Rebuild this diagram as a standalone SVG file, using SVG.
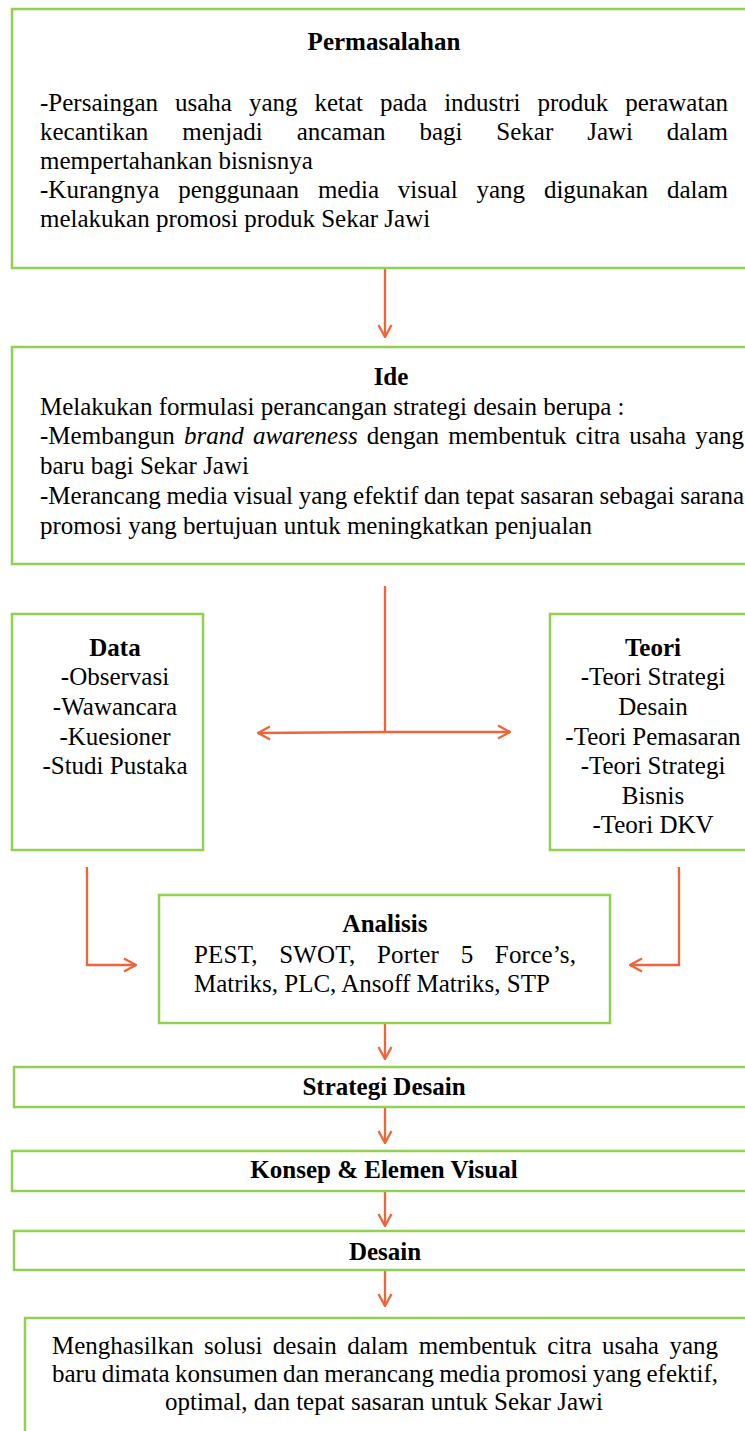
<svg xmlns="http://www.w3.org/2000/svg" width="745" height="1431" viewBox="0 0 745 1431">
<style>
.box{fill:#fff;stroke:#92D050;stroke-width:2.5}
.t{font-family:"Liberation Serif","Times New Roman",serif;font-size:25px;fill:#000}
.b{font-weight:bold}
.c{text-anchor:middle}
.con{fill:none;stroke:#F0643A;stroke-width:2.3}
</style>
<defs>
<marker id="ah" viewBox="0 0 14 16" refX="13" refY="8" markerWidth="14" markerHeight="16" markerUnits="userSpaceOnUse" orient="auto">
<path d="M1,1.5 L13,8 L1,14.5" fill="none" stroke="#F0643A" stroke-width="2.3"/>
</marker>
</defs>
<rect width="745" height="1431" fill="#fff"/>
<g id="connectors">
<line class="con" x1="385" y1="269" x2="385" y2="337" marker-end="url(#ah)"/>
<line class="con" x1="385" y1="586" x2="385" y2="732"/>
<line class="con" x1="385" y1="732" x2="258" y2="733" marker-end="url(#ah)"/>
<line class="con" x1="385" y1="732" x2="510" y2="732" marker-end="url(#ah)"/>
<polyline class="con" points="87,867 87,965 136,965" marker-end="url(#ah)"/>
<polyline class="con" points="679,867 679,965 630,965" marker-end="url(#ah)"/>
<line class="con" x1="385" y1="1024" x2="385" y2="1059" marker-end="url(#ah)"/>
<line class="con" x1="385" y1="1108" x2="385" y2="1143" marker-end="url(#ah)"/>
<line class="con" x1="385" y1="1192" x2="385" y2="1226" marker-end="url(#ah)"/>
<line class="con" x1="385" y1="1271" x2="385" y2="1306" marker-end="url(#ah)"/>
</g>
<g id="permasalahan">
<rect class="box" x="12" y="9" width="760" height="259"/>
<text class="t b c" x="384" y="50">Permasalahan</text>
<text class="t" x="40" y="111" word-spacing="10.7" textLength="688" lengthAdjust="spacing">-Persaingan usaha yang ketat pada industri produk perawatan</text>
<text class="t" x="40" y="140" word-spacing="27.6" textLength="688" lengthAdjust="spacing">kecantikan menjadi ancaman bagi Sekar Jawi dalam</text>
<text class="t" x="40" y="169">mempertahankan bisnisnya</text>
<text class="t" x="40" y="198" word-spacing="12.6" textLength="688" lengthAdjust="spacing">-Kurangnya penggunaan media visual yang digunakan dalam</text>
<text class="t" x="40" y="227">melakukan promosi produk Sekar Jawi</text>
</g>
<g id="ide">
<rect class="box" x="12" y="347" width="760" height="217"/>
<text class="t b c" x="391" y="385">Ide</text>
<text class="t" x="40" y="415">Melakukan formulasi perancangan strategi desain berupa :</text>
<text class="t" x="40" y="444" word-spacing="2.9" textLength="704" lengthAdjust="spacing">-Membangun <tspan font-style="italic">brand awareness</tspan> dengan membentuk citra usaha yang</text>
<text class="t" x="40" y="474">baru bagi Sekar Jawi</text>
<text class="t" x="40" y="504" word-spacing="-0.5" textLength="704" lengthAdjust="spacing">-Merancang media visual yang efektif dan tepat sasaran sebagai sarana</text>
<text class="t" x="40" y="534">promosi yang bertujuan untuk meningkatkan penjualan</text>
</g>
<g id="data">
<rect class="box" x="12" y="614" width="191" height="236"/>
<text class="t b c" x="115" y="656">Data</text>
<text class="t c" x="115" y="685">-Observasi</text>
<text class="t c" x="115" y="715">-Wawancara</text>
<text class="t c" x="115" y="745">-Kuesioner</text>
<text class="t c" x="115" y="774">-Studi Pustaka</text>
</g>
<g id="teori">
<rect class="box" x="550" y="614" width="220" height="236"/>
<text class="t b c" x="653" y="656">Teori</text>
<text class="t c" x="653" y="685">-Teori Strategi</text>
<text class="t c" x="653" y="715">Desain</text>
<text class="t c" x="653" y="745">-Teori Pemasaran</text>
<text class="t c" x="653" y="774">-Teori Strategi</text>
<text class="t c" x="653" y="804">Bisnis</text>
<text class="t c" x="653" y="833">-Teori DKV</text>
</g>
<g id="analisis">
<rect class="box" x="159" y="895" width="451" height="128"/>
<text class="t b c" x="385" y="932">Analisis</text>
<text class="t" x="194" y="963" word-spacing="15.1" textLength="382" lengthAdjust="spacing">PEST, SWOT, Porter 5 Force’s,</text>
<text class="t" x="194" y="992">Matriks, PLC, Ansoff Matriks, STP</text>
</g>
<g id="strategi-desain">
<rect class="box" x="14" y="1067" width="760" height="40"/>
<text class="t b c" x="384" y="1095">Strategi Desain</text>
</g>
<g id="konsep">
<rect class="box" x="12" y="1151" width="760" height="40"/>
<text class="t b c" x="384" y="1178">Konsep &amp; Elemen Visual</text>
</g>
<g id="desain">
<rect class="box" x="14" y="1231" width="760" height="39"/>
<text class="t b c" x="385" y="1260">Desain</text>
</g>
<g id="hasil">
<rect class="box" x="25" y="1318" width="750" height="130"/>
<text class="t" x="52" y="1354" word-spacing="4.2" textLength="666" lengthAdjust="spacing">Menghasilkan solusi desain dalam membentuk citra usaha yang</text>
<text class="t" x="52" y="1382" word-spacing="-1" textLength="666" lengthAdjust="spacing">baru dimata konsumen dan merancang media promosi yang efektif,</text>
<text class="t c" x="384" y="1410">optimal, dan tepat sasaran untuk Sekar Jawi</text>
</g>
</svg>
